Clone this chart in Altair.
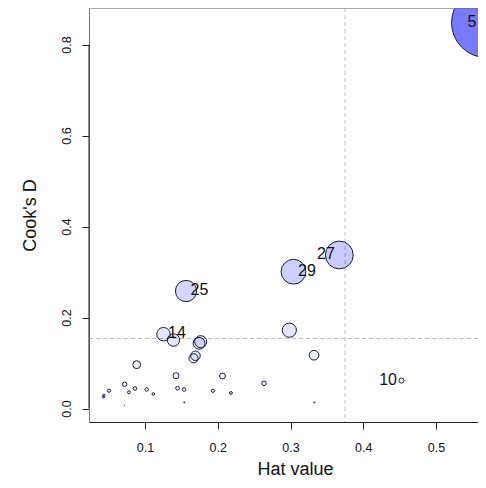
import altair as alt
import pandas as pd

# Influence plot data (hat value, Cook's D)
hat = [0.5694, 0.3671, 0.3041, 0.1564, 0.1254, 0.1392, 0.1743, 0.1766, 0.1667, 0.1694,
       0.2984, 0.3323, 0.0886, 0.1426, 0.2065, 0.2636, 0.4526, 0.0721, 0.0436, 0.0430,
       0.0505, 0.0780, 0.0863, 0.1023, 0.1114, 0.1447, 0.1536, 0.1932, 0.2182, 0.0721,
       0.1540, 0.3327]
cooks = [0.848, 0.3374, 0.3007, 0.2582, 0.1633, 0.1505, 0.1433, 0.1468, 0.1103, 0.1160,
         0.1721, 0.1171, 0.0963, 0.0721, 0.0714, 0.0554, 0.0615, 0.0532, 0.0286, 0.0253,
         0.0391, 0.0356, 0.0440, 0.0418, 0.0319, 0.0446, 0.0418, 0.0389, 0.0341, 0.0066,
         0.0136, 0.0132]
labels = ["5", "27", "29", "25", "14", "", "", "", "", "",
          "", "", "", "", "", "", "10", "", "", "",
          "", "", "", "", "", "", "", "", "", "",
          "", ""]
sides = ["edge", "left", "right", "right", "right", "", "", "", "", "",
         "", "", "", "", "", "", "left", "", "", "",
         "", "", "", "", "", "", "", "", "", "",
         "", ""]

hat_cutoffs = [0.375, 0.5625]
cook_cutoff = [0.1538]
x_ticks = [0.1, 0.2, 0.3, 0.4, 0.5]
y_ticks = [0.0, 0.2, 0.4, 0.6, 0.8]

df = pd.DataFrame({"hat": hat, "cook": cooks, "label": labels, "side": sides})
vdf = pd.DataFrame({"h": hat_cutoffs})
hdf = pd.DataFrame({"c": cook_cutoff})
seg = pd.DataFrame({"y0": [min(y_ticks)], "y1": [max(y_ticks)]})

W, H = 389, 414
FONT = "Liberation Sans"

xs = alt.Scale(domain=[0.02302, 0.55773], nice=False, zero=False)
ys = alt.Scale(domain=[-0.02967, 0.88022], nice=False, zero=False)

xaxis = alt.Axis(values=x_ticks, format=".1f", title="Hat value", grid=False,
                 tickSize=7, tickColor="#222", domainColor="#222",
                 labelFontSize=12.5, labelFont=FONT, labelColor="#111",
                 labelBaseline="alphabetic", labelPadding=22.5,
                 titleFont=FONT, titleFontSize=18, titleFontWeight="normal",
                 titleColor="#111", titleBaseline="alphabetic", titleY=52, titleX=206)
yaxis = alt.Axis(values=y_ticks, format=".1f", title="Cook's D", grid=False,
                 tickSize=7, tickColor="#222", domainColor="#777",
                 labelFontSize=12.5, labelFont=FONT, labelColor="#111",
                 labelAngle=270, labelAlign="center", labelBaseline="alphabetic",
                 labelPadding=12,
                 titleFont=FONT, titleFontSize=18, titleFontWeight="normal",
                 titleColor="#111", titleAngle=270, titleBaseline="alphabetic", titleX=-54)

base = alt.Chart(df)

points = base.mark_point(shape="circle", filled=False, clip=True, fill="#0000ff",
                         stroke="#1a1a40", strokeWidth=1, opacity=1).encode(
    x=alt.X("hat:Q", scale=xs, axis=xaxis),
    y=alt.Y("cook:Q", scale=ys, axis=yaxis),
    size=alt.Size("cook:Q", scale=alt.Scale(type="pow", exponent=2, domain=[0, 1], range=[0, 6790]), legend=None),
    fillOpacity=alt.FillOpacity("cook:Q", scale=alt.Scale(domain=[0, 1], range=[0, 0.62]), legend=None),
)

vlines = alt.Chart(vdf).mark_rule(color="#bbbbbb", strokeDash=[4, 3], strokeWidth=1, clip=True).encode(
    x=alt.X("h:Q", scale=xs)
)
hlines = alt.Chart(hdf).mark_rule(color="#bbbbbb", strokeDash=[4, 3], strokeWidth=1, clip=True).encode(
    y=alt.Y("c:Q", scale=ys)
)
top_border = alt.Chart(hdf).mark_rule(color="#777777", strokeWidth=1).encode(
    x=alt.value(0), x2=alt.value(W), y=alt.value(0)
)
yseg = alt.Chart(seg).mark_rule(color="#222222", strokeWidth=1).encode(
    x=alt.value(0), y=alt.Y("y0:Q", scale=ys), y2="y1:Q"
)

def label_layer(side, align, dx):
    return base.transform_filter(alt.datum.side == side).mark_text(
        align=align, baseline="middle", dx=dx, dy=-1, fontSize=16, font=FONT, color="#111"
    ).encode(x=alt.X("hat:Q", scale=xs), y=alt.Y("cook:Q", scale=ys), text="label:N")

left_lab = label_layer("left", "right", -4.5)
right_lab = label_layer("right", "left", 4.5)
edge_lab = label_layer("edge", "right", -10)

chart = alt.layer(vlines, hlines, points, top_border, yseg, left_lab, right_lab, edge_lab).properties(
    width=W, height=H,
    autosize=alt.AutoSizeParams(type="none"),
    padding={"left": 81, "top": 0, "right": 0, "bottom": 58},
).configure_view(stroke=None).configure(background="white")

chart.save("out.html", embed_options={"renderer": "svg", "actions": False})
